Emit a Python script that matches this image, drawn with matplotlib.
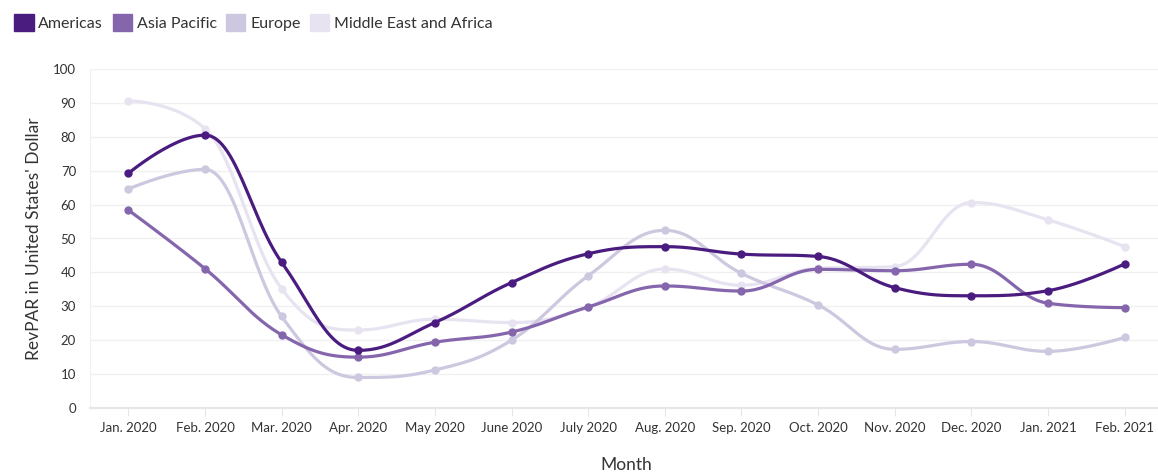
import numpy as np
import matplotlib
matplotlib.use("Agg")
import matplotlib.pyplot as plt
from matplotlib.patches import Patch

plt.rcParams['font.family'] = ['Lato', 'DejaVu Sans']

months = ["Jan. 2020", "Feb. 2020", "Mar. 2020", "Apr. 2020", "May 2020", "June 2020",
          "July 2020", "Aug. 2020", "Sep. 2020", "Oct. 2020", "Nov. 2020", "Dec. 2020",
          "Jan. 2021", "Feb. 2021"]
americas = [69.2, 80.5, 43.0, 17.0, 25.2, 37.0, 45.5, 47.6, 45.4, 44.7, 35.5, 33.1, 34.6, 42.5]
asia_pacific = [58.4, 41.1, 21.6, 15.0, 19.4, 22.4, 29.8, 36.0, 34.5, 40.9, 40.5, 42.4, 30.9, 29.6]
europe = [64.6, 70.4, 27.0, 9.0, 11.2, 20.0, 39.0, 52.4, 39.7, 30.4, 17.3, 19.6, 16.7, 20.8]
mea = [90.6, 82.4, 35.2, 23.0, 26.2, 25.2, 29.8, 41.0, 36.2, 41.2, 41.7, 60.6, 55.5, 47.6]

series = [("Americas", americas, "#4b1c80"),
          ("Asia Pacific", asia_pacific, "#8566ad"),
          ("Europe", europe, "#cdc7df"),
          ("Middle East and Africa", mea, "#e7e3f0")]


def spline(xs, ys, smoothing=1.5, n=30):
    # Highcharts-like spline built from cubic bezier segments
    xs = np.asarray(xs, float)
    ys = np.asarray(ys, float)
    m = len(xs)
    lc = np.zeros((m, 2))
    rc = np.zeros((m, 2))
    for i in range(m):
        if i == 0 or i == m - 1:
            lc[i] = rc[i] = (xs[i], ys[i])
            continue
        d = smoothing + 1
        lx = (smoothing * xs[i] + xs[i - 1]) / d
        ly = (smoothing * ys[i] + ys[i - 1]) / d
        rx = (smoothing * xs[i] + xs[i + 1]) / d
        ry = (smoothing * ys[i] + ys[i + 1]) / d
        corr = 0.0
        if rx != lx:
            corr = (ry - ly) * (rx - xs[i]) / (rx - lx) + ys[i] - ry
        ly += corr
        ry += corr
        py, ay, ny = ys[i], ys[i - 1], ys[i + 1]
        if ly > ay and ly > py:
            ly = max(ay, py); ry = 2 * py - ly
        elif ly < ay and ly < py:
            ly = min(ay, py); ry = 2 * py - ly
        if ry > ny and ry > py:
            ry = max(ny, py); ly = 2 * py - ry
        elif ry < ny and ry < py:
            ry = min(ny, py); ly = 2 * py - ry
        lc[i] = (lx, ly)
        rc[i] = (rx, ry)
    t = np.linspace(0, 1, n)[:, None]
    out = []
    for i in range(1, m):
        p0 = np.array([xs[i - 1], ys[i - 1]])
        p1 = rc[i - 1]
        p2 = lc[i]
        p3 = np.array([xs[i], ys[i]])
        seg = ((1 - t) ** 3) * p0 + 3 * ((1 - t) ** 2) * t * p1 + 3 * (1 - t) * t ** 2 * p2 + t ** 3 * p3
        out.append(seg if i == 1 else seg[1:])
    out = np.vstack(out)
    return out[:, 0], out[:, 1]


fig = plt.figure(figsize=(11.58, 4.73), dpi=100)
ax = fig.add_axes([90 / 1158, 1 - 408 / 473, (1163 - 90) / 1158, (408 - 69) / 473])

x = np.arange(len(months))
for k, (name, vals, color) in enumerate(series):
    sx, sy = spline(x, vals)
    z = 10 - k
    ax.plot(sx, sy, color=color, lw=2.3, zorder=z, solid_capstyle='round')
    ax.plot(x, vals, 'o', color=color, ms=5, zorder=z)

ax.set_xlim(-0.5, len(months) - 0.5)
ax.set_ylim(0, 100)
ax.set_yticks(range(0, 101, 10))
ax.set_xticks(x)
ax.set_xticklabels(months)
ax.grid(axis='y', color='#f0f0f0', lw=1)
ax.set_axisbelow(True)
for s in ['top', 'right']:
    ax.spines[s].set_visible(False)
ax.spines['left'].set_color('#f0f0f0')
ax.spines['bottom'].set_color('#e6e6e6')
ax.spines['bottom'].set_linewidth(1.5)
ax.tick_params(axis='y', length=0, labelsize=9.5, colors='#333333', pad=10)
ax.tick_params(axis='x', length=6, color='#e6e6e6', labelsize=9.5, labelcolor='#333333', pad=4)

ax.set_ylabel("RevPAR in United States' Dollar", fontsize=12.5, color='#333333', labelpad=8)
fig.text(626 / 1158, 1 - 465 / 473, "Month", ha='center', va='center', fontsize=12.5, color='#333333')

handles = [Patch(facecolor=c, edgecolor=c, label=n) for n, _, c in series]
fig.legend(handles=handles, loc='upper left', bbox_to_anchor=(0.0, 1.0), ncol=4, frameon=False,
           fontsize=11.5, handlelength=1.2, handleheight=1.2, handletextpad=0.3, columnspacing=0.6,
           labelcolor='#333333')

fig.savefig("out.png", dpi=100)
